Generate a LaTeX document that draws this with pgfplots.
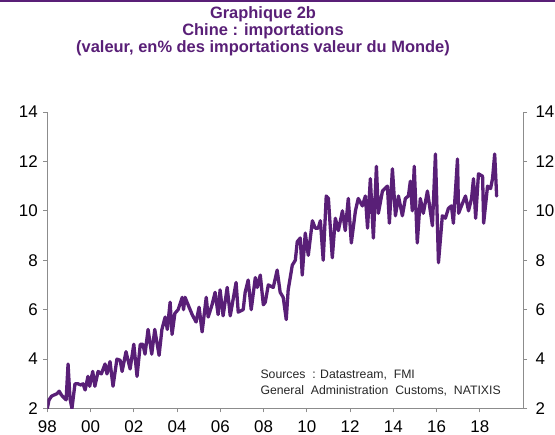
\documentclass[border=0pt]{standalone}
\usepackage{pgfplots}
\pgfplotsset{compat=1.18}
\usepackage{fontspec}
\setmainfont{Liberation Sans}
\definecolor{pur}{RGB}{89,31,119}
\definecolor{axgray}{RGB}{140,140,140}
\pgfplotstableread{
x y
1998.00 2.0
1998.08 2.35
1998.20 2.5
1998.32 2.55
1998.45 2.6
1998.55 2.7
1998.65 2.55
1998.75 2.45
1998.87 2.35
1998.96 3.8
1999.05 2.4
1999.14 2.0
1999.28 3.0
1999.42 3.0
1999.55 2.95
1999.65 3.0
1999.75 2.75
1999.88 3.3
1999.96 2.9
2000.10 3.5
2000.20 2.9
2000.35 3.5
2000.50 3.4
2000.67 3.8
2000.76 3.4
2000.90 3.9
2001.04 2.9
2001.22 4.0
2001.37 3.95
2001.46 3.5
2001.64 4.3
2001.83 3.6
2002.00 4.6
2002.15 3.3
2002.30 4.6
2002.42 4.6
2002.52 4.2
2002.66 5.2
2002.83 4.2
2002.97 5.2
2003.17 4.15
2003.30 5.2
2003.45 5.7
2003.55 5.2
2003.68 6.3
2003.77 5.0
2003.90 5.85
2004.05 6.0
2004.24 6.5
2004.30 6.0
2004.37 6.5
2004.51 6.2
2004.70 5.8
2004.88 5.5
2005.02 6.1
2005.16 5.1
2005.35 6.5
2005.44 5.7
2005.62 6.2
2005.76 6.7
2005.90 5.8
2005.99 6.8
2006.13 5.75
2006.32 6.9
2006.46 5.75
2006.73 7.1
2006.83 5.9
2007.06 6.0
2007.15 6.7
2007.29 7.2
2007.43 6.0
2007.62 7.3
2007.71 6.9
2007.85 7.4
2007.99 6.2
2008.08 6.3
2008.22 7.0
2008.45 6.9
2008.63 7.6
2008.77 6.7
2008.91 6.5
2009.05 5.6
2009.14 6.8
2009.33 7.8
2009.47 8.0
2009.56 8.75
2009.70 8.9
2009.79 7.4
2009.93 9.1
2010.07 8.2
2010.26 9.6
2010.39 9.3
2010.53 9.3
2010.63 9.6
2010.76 8.0
2010.90 10.6
2011.00 10.5
2011.18 8.1
2011.32 9.7
2011.46 9.2
2011.65 10.0
2011.78 9.2
2011.92 10.5
2012.06 8.7
2012.25 10.0
2012.38 10.5
2012.57 10.2
2012.71 10.6
2012.81 9.3
2012.94 11.3
2013.08 8.9
2013.22 11.8
2013.31 9.9
2013.50 10.8
2013.73 11.0
2013.82 9.5
2013.96 11.7
2014.10 9.8
2014.24 10.6
2014.42 9.8
2014.56 10.5
2014.70 10.6
2014.79 11.2
2014.88 10.0
2014.97 11.8
2015.11 8.7
2015.25 10.5
2015.39 9.9
2015.58 10.8
2015.81 9.4
2015.95 12.3
2016.09 7.9
2016.27 9.8
2016.41 9.7
2016.55 10.1
2016.69 10.2
2016.78 9.5
2016.97 12.1
2017.02 9.9
2017.20 10.3
2017.34 10.6
2017.48 10.0
2017.62 10.5
2017.71 11.3
2017.81 9.7
2017.94 11.5
2018.13 11.4
2018.18 9.5
2018.36 11.0
2018.50 10.9
2018.59 11.3
2018.69 12.3
2018.78 10.6
}\chinaimp
\begin{document}
\begin{tikzpicture}[x=1bp,y=1bp]
\path[use as bounding box] (0,0) rectangle (555,435);
\draw[pur, line width=1.5bp] (0,434.2) -- (555,434.2);
\node[pur, font=\fontsize{16.5}{16.5}\selectfont\bfseries, anchor=base] at (263,416) {Graphique 2b};
\node[pur, font=\fontsize{16.5}{16.5}\selectfont\bfseries, anchor=base] at (263,399) {Chine : importations};
\node[pur, font=\fontsize{16.5}{16.5}\selectfont\bfseries, anchor=base] at (263,382) {(valeur, en\% des importations valeur du Monde)};
\begin{axis}[
  at={(47.3bp,26.5bp)}, anchor=south west,
  width=475.7bp, height=296.5bp, scale only axis,
  xmin=1998, xmax=2020, ymin=2, ymax=14,
  axis x line*=bottom, axis y line*=left,
  axis line style={axgray, line width=0.8bp},
  tick style={axgray, line width=0.8bp},
  tick align=outside, major tick length=4bp,
  ytick={2,4,6,8,10,12,14},
  xtick={1998,2000,2002,2004,2006,2008,2010,2012,2014,2016,2018},
  xticklabels={98,00,02,04,06,08,10,12,14,16,18},
  ticklabel style={font=\fontsize{17}{17}\selectfont, black},
  /pgf/number format/assume math mode=true,
  yticklabel style={xshift=-2bp},
  xticklabel style={yshift=-5bp},
]
\addplot[pur, line width=3.3bp, line join=round, line cap=round] table[x=x,y=y] {\chinaimp};
\end{axis}
\begin{axis}[
  at={(47.3bp,26.5bp)}, anchor=south west,
  width=475.7bp, height=296.5bp, scale only axis,
  xmin=1998, xmax=2020, ymin=2, ymax=14,
  hide x axis, axis y line*=right,
  axis line style={axgray, line width=0.8bp},
  tick style={axgray, line width=0.8bp},
  tick align=outside, major tick length=4bp,
  ytick={2,4,6,8,10,12,14},
  ticklabel style={font=\fontsize{17}{17}\selectfont, black},
  /pgf/number format/assume math mode=true,
  yticklabel style={xshift=5bp},
]
\end{axis}
\node[anchor=base west, font=\fontsize{12.3}{12.3}\selectfont, text=black!85] at (257,56) {Sources~~: Datastream,~~FMI};
\node[anchor=base west, font=\fontsize{12.3}{12.3}\selectfont, text=black!85] at (257,40) {General~~Administration~~Customs,~~NATIXIS};
\end{tikzpicture}
\end{document}
